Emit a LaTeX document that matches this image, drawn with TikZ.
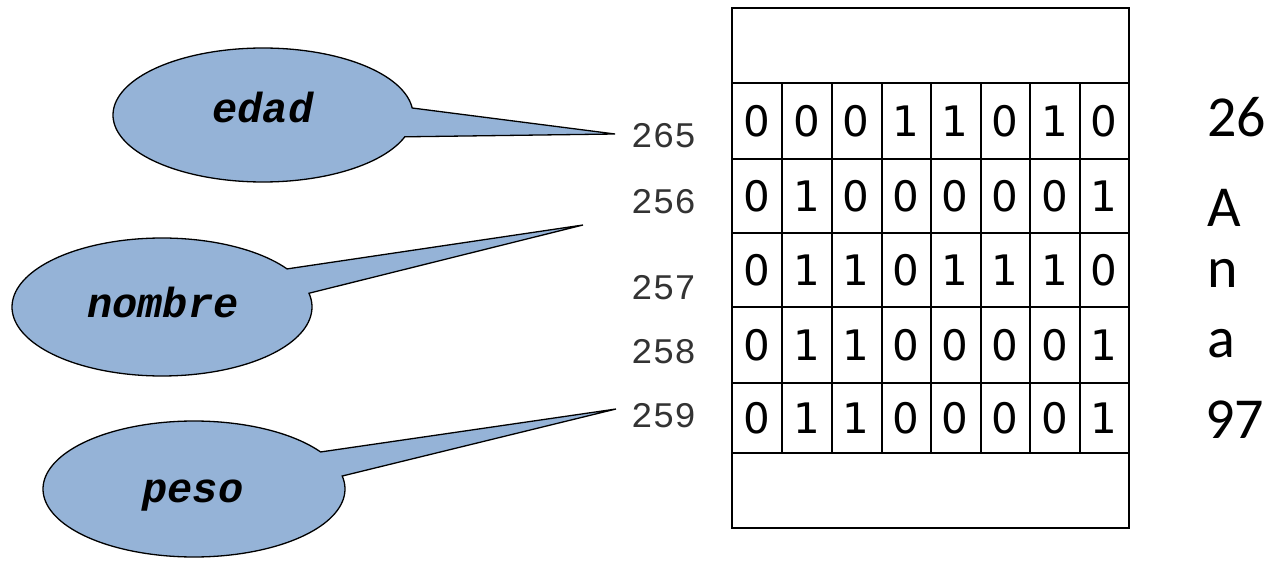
\documentclass[tikz,border=0pt]{standalone}
\usepackage{fontspec}
\newfontfamily\monof{Liberation Mono}
\newfontfamily\cellf{DejaVu Sans}
\newfontfamily\calf{Carlito}
\definecolor{bubble}{RGB}{149,179,215}
\begin{document}
\begin{tikzpicture}[x=1pt,y=-1pt,
  bubbleshape/.style={fill=bubble,draw=black,line width=1.3pt,line join=miter},
  varlabel/.style={font=\monof\bfseries\itshape\fontsize{42}{42}\selectfont,anchor=base,inner sep=0pt},
  addr/.style={font=\monof\fontsize{36}{36}\selectfont,text=black!80,anchor=base west,inner sep=0pt},
  bit/.style={font=\cellf\fontsize{42}{42}\selectfont,inner sep=0pt},
  val/.style={font=\calf\fontsize{58}{58}\selectfont,anchor=base west,inner sep=0pt},
  gridline/.style={line width=2pt}]
\useasboundingbox (0,0) rectangle (1272,561);
% bubbles
\coordinate (edadtip) at (615,134);
\draw[bubbleshape] (edadtip) -- plot[domain=19:354,samples=140] ({263+150*cos(\x)},{115+67*sin(\x)}) -- cycle;
\node[varlabel] (edad) at (263,123) {edad};
\coordinate (nombretip) at (583,225);
\draw[bubbleshape] (nombretip) -- plot[domain=-11.5:326.5,samples=140] ({162+150*cos(\x)},{307+69*sin(\x)}) -- cycle;
\node[varlabel] (nombre) at (163,318) {nombre};
\coordinate (pesotip) at (616,409);
\draw[bubbleshape] (pesotip) -- plot[domain=-11:327,samples=140] ({194+151*cos(\x)},{489+68*sin(\x)}) -- cycle;
\node[varlabel] (peso) at (193,502) {peso};
% addresses
\node[addr] (a265) at (631,148) {265};
\node[addr] (a256) at (631,214) {256};
\node[addr] (a257) at (631,300) {257};
\node[addr] (a258) at (631,363) {258};
\node[addr] (a259) at (631,427) {259};
% memory grid
\draw[gridline] (732,8) rectangle (1129,528);
\foreach \yy in {83,159,233,307,383,453} \draw[gridline] (732,\yy) -- (1129,\yy);
\foreach \xx in {782,832,882,931,981,1030,1080} \draw[gridline] (\xx,83) -- (\xx,453);
\foreach \bits [count=\r] / \ya / \yb in {{0,0,0,1,1,0,1,0}/83/159,{0,1,0,0,0,0,0,1}/159/233,{0,1,1,0,1,1,1,0}/233/307,{0,1,1,0,0,0,0,1}/307/383,{0,1,1,0,0,0,0,1}/383/453}{
  \foreach \b [count=\c] in \bits {
    \node[bit] (b\r-\c) at ({732+49.625*(\c-0.5)},{(\ya+\yb)/2}) {\b};
  }
}
% values
\node[val] (v26) at (1207,137) {26};
\node[val] (vA) at (1207,227) {A};
\node[val] (vn) at (1207,288) {n};
\node[val] (va) at (1207,358) {a};
\node[val] (v97) at (1205,438) {97};
\end{tikzpicture}
\end{document}
